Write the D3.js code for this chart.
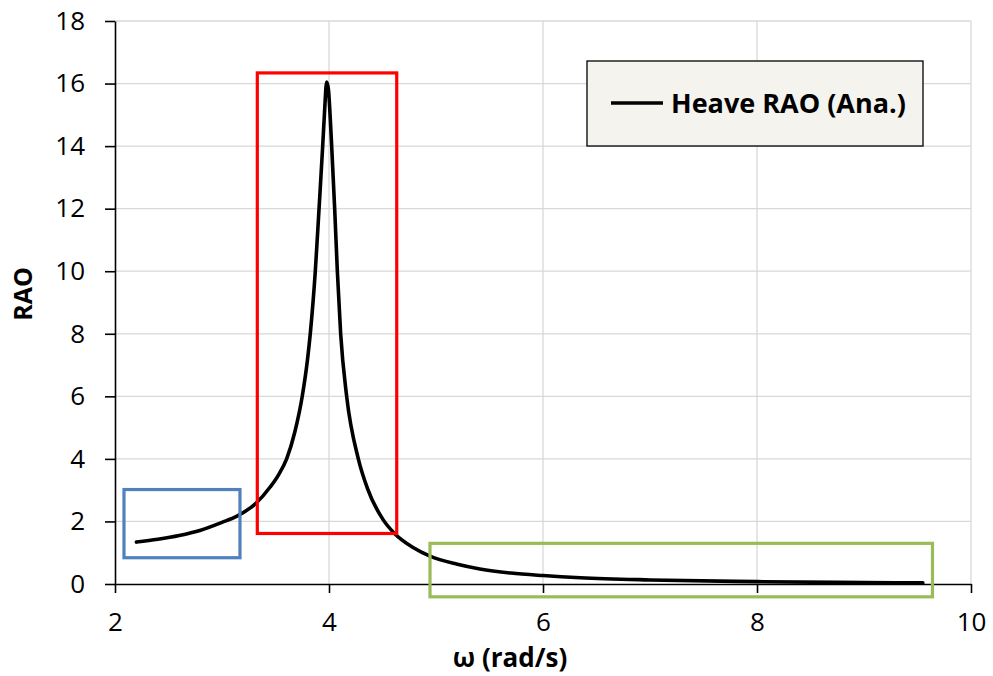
<!DOCTYPE html>
<html>
<head>
<meta charset="utf-8">
<script src="https://cdn.jsdelivr.net/npm/d3@7"></script>
<style>
  body { margin: 0; background: #fff; }
  text { font-family: "Open Sans", Lato, sans-serif; fill: #000; }
</style>
</head>
<body>
<div id="chart"></div>
<script>
// 1. SETUP
const width = 993;
const height = 676;
const margin = {top: 21, right: 22, bottom: 92, left: 115};

// Data
const omega = [2.2, 2.4, 2.6, 2.8, 3.0, 3.14, 3.32, 3.45, 3.53, 3.604, 3.68, 3.75, 3.8, 3.825,
    3.872, 3.907, 3.941, 3.96, 3.978, 3.995, 4.01, 4.025, 4.053, 4.078, 4.109, 4.165,
    4.274, 4.36, 4.507, 4.617, 4.79, 4.944, 5.2, 5.41, 5.7, 6.0, 6.35, 7.0, 8.0, 9.0, 9.55];
const heaveRAO = [1.34, 1.43, 1.55, 1.72, 1.97, 2.17, 2.59, 3.1, 3.5, 4.0, 4.85, 6.0, 7.2, 8.0,
    10.0, 12.0, 14.0, 15.2, 16.05, 15.8, 15.0, 14.0, 12.0, 10.0, 8.0, 6.0,
    4.0, 3.05, 2.05, 1.6, 1.16, 0.89, 0.63, 0.48, 0.35, 0.27, 0.2, 0.13, 0.075, 0.045, 0.035];
const xTicks = [2, 4, 6, 8, 10];
const yTicks = [0, 2, 4, 6, 8, 10, 12, 14, 16, 18];
const seriesName = "Heave RAO (Ana.)";

// highlight boxes in data units [x0, x1, y0, y1]
const boxes = [
    {name: "low", extent: [2.084, 3.168, 0.84, 3.02], color: "#4f81bd"},
    {name: "resonance", extent: [3.33, 4.633, 1.615, 16.34], color: "#ff0000"},
    {name: "high", extent: [4.944, 9.64, -0.41, 1.30], color: "#9bbb59"}
];

const svg = d3.select("#chart")
    .append("svg")
    .attr("width", width)
    .attr("height", height);

const x = d3.scaleLinear().domain([2, 10]).range([margin.left, width - margin.right]);
const y = d3.scaleLinear().domain([0, 18]).range([height - margin.bottom, margin.top]);

// 2. GRID
svg.append("g")
    .selectAll("line").data(yTicks.filter(d => d > 0)).join("line")
    .attr("x1", margin.left).attr("x2", x(10))
    .attr("y1", d => y(d)).attr("y2", d => y(d))
    .attr("stroke", "#d9d9d9").attr("stroke-width", 1.3);
svg.append("g")
    .selectAll("line").data(xTicks.filter(d => d > 2)).join("line")
    .attr("x1", d => x(d)).attr("x2", d => x(d))
    .attr("y1", y(0)).attr("y2", y(18))
    .attr("stroke", "#d9d9d9").attr("stroke-width", 1.3);

// 3. AXES
const xAxis = svg.append("g")
    .attr("transform", `translate(0, ${y(0)})`)
    .call(d3.axisBottom(x).tickValues(xTicks).tickSize(9).tickSizeOuter(0).tickPadding(20));
const yAxis = svg.append("g")
    .attr("transform", `translate(${margin.left}, 0)`)
    .call(d3.axisLeft(y).tickValues(yTicks).tickSize(10).tickSizeOuter(0).tickPadding(20));

[xAxis, yAxis].forEach(a => {
    a.selectAll("path, line").attr("stroke", "#000").attr("stroke-width", 1.6);
    a.selectAll("text").style("font-size", "26px").style("font-family", "'Open Sans', sans-serif").attr("fill", "#000");
});
xAxis.selectAll("text").attr("dy", "0.71em");

svg.append("text")
    .attr("x", 510).attr("y", 667)
    .attr("text-anchor", "middle")
    .style("font-size", "26px").style("font-weight", "bold")
    .text("ω (rad/s)");

svg.append("text")
    .attr("transform", "translate(32, 294) rotate(-90)")
    .attr("text-anchor", "middle")
    .style("font-size", "25px").style("font-weight", "bold")
    .text("RAO");

// 4. SERIES
const data = omega.map((w, i) => ({w: w, v: heaveRAO[i]}));
const line = d3.line()
    .x(d => x(d.w)).y(d => y(d.v))
    .curve(d3.curveMonotoneX);

svg.append("path")
    .datum(data)
    .attr("d", line)
    .attr("fill", "none")
    .attr("stroke", "#000")
    .attr("stroke-width", 3.6)
    .attr("stroke-linejoin", "round")
    .attr("stroke-linecap", "round");

// highlight boxes
svg.append("g")
    .selectAll("rect").data(boxes).join("rect")
    .attr("x", d => x(d.extent[0]))
    .attr("y", d => y(d.extent[3]))
    .attr("width", d => x(d.extent[1]) - x(d.extent[0]))
    .attr("height", d => y(d.extent[2]) - y(d.extent[3]))
    .attr("fill", "none")
    .attr("stroke", d => d.color)
    .attr("stroke-width", 3.2);

// 5. LEGEND
const legend = svg.append("g").attr("transform", "translate(587, 61)");
legend.append("rect")
    .attr("width", 336).attr("height", 85)
    .attr("fill", "#f4f3ee").attr("stroke", "#000").attr("stroke-width", 1.3);
legend.append("line")
    .attr("x1", 24).attr("x2", 76).attr("y1", 42).attr("y2", 42)
    .attr("stroke", "#000").attr("stroke-width", 3.6);
legend.append("text")
    .attr("x", 84).attr("y", 52)
    .style("font-size", "27px").style("font-weight", "bold")
    .text(seriesName);
</script>
</body>
</html>
